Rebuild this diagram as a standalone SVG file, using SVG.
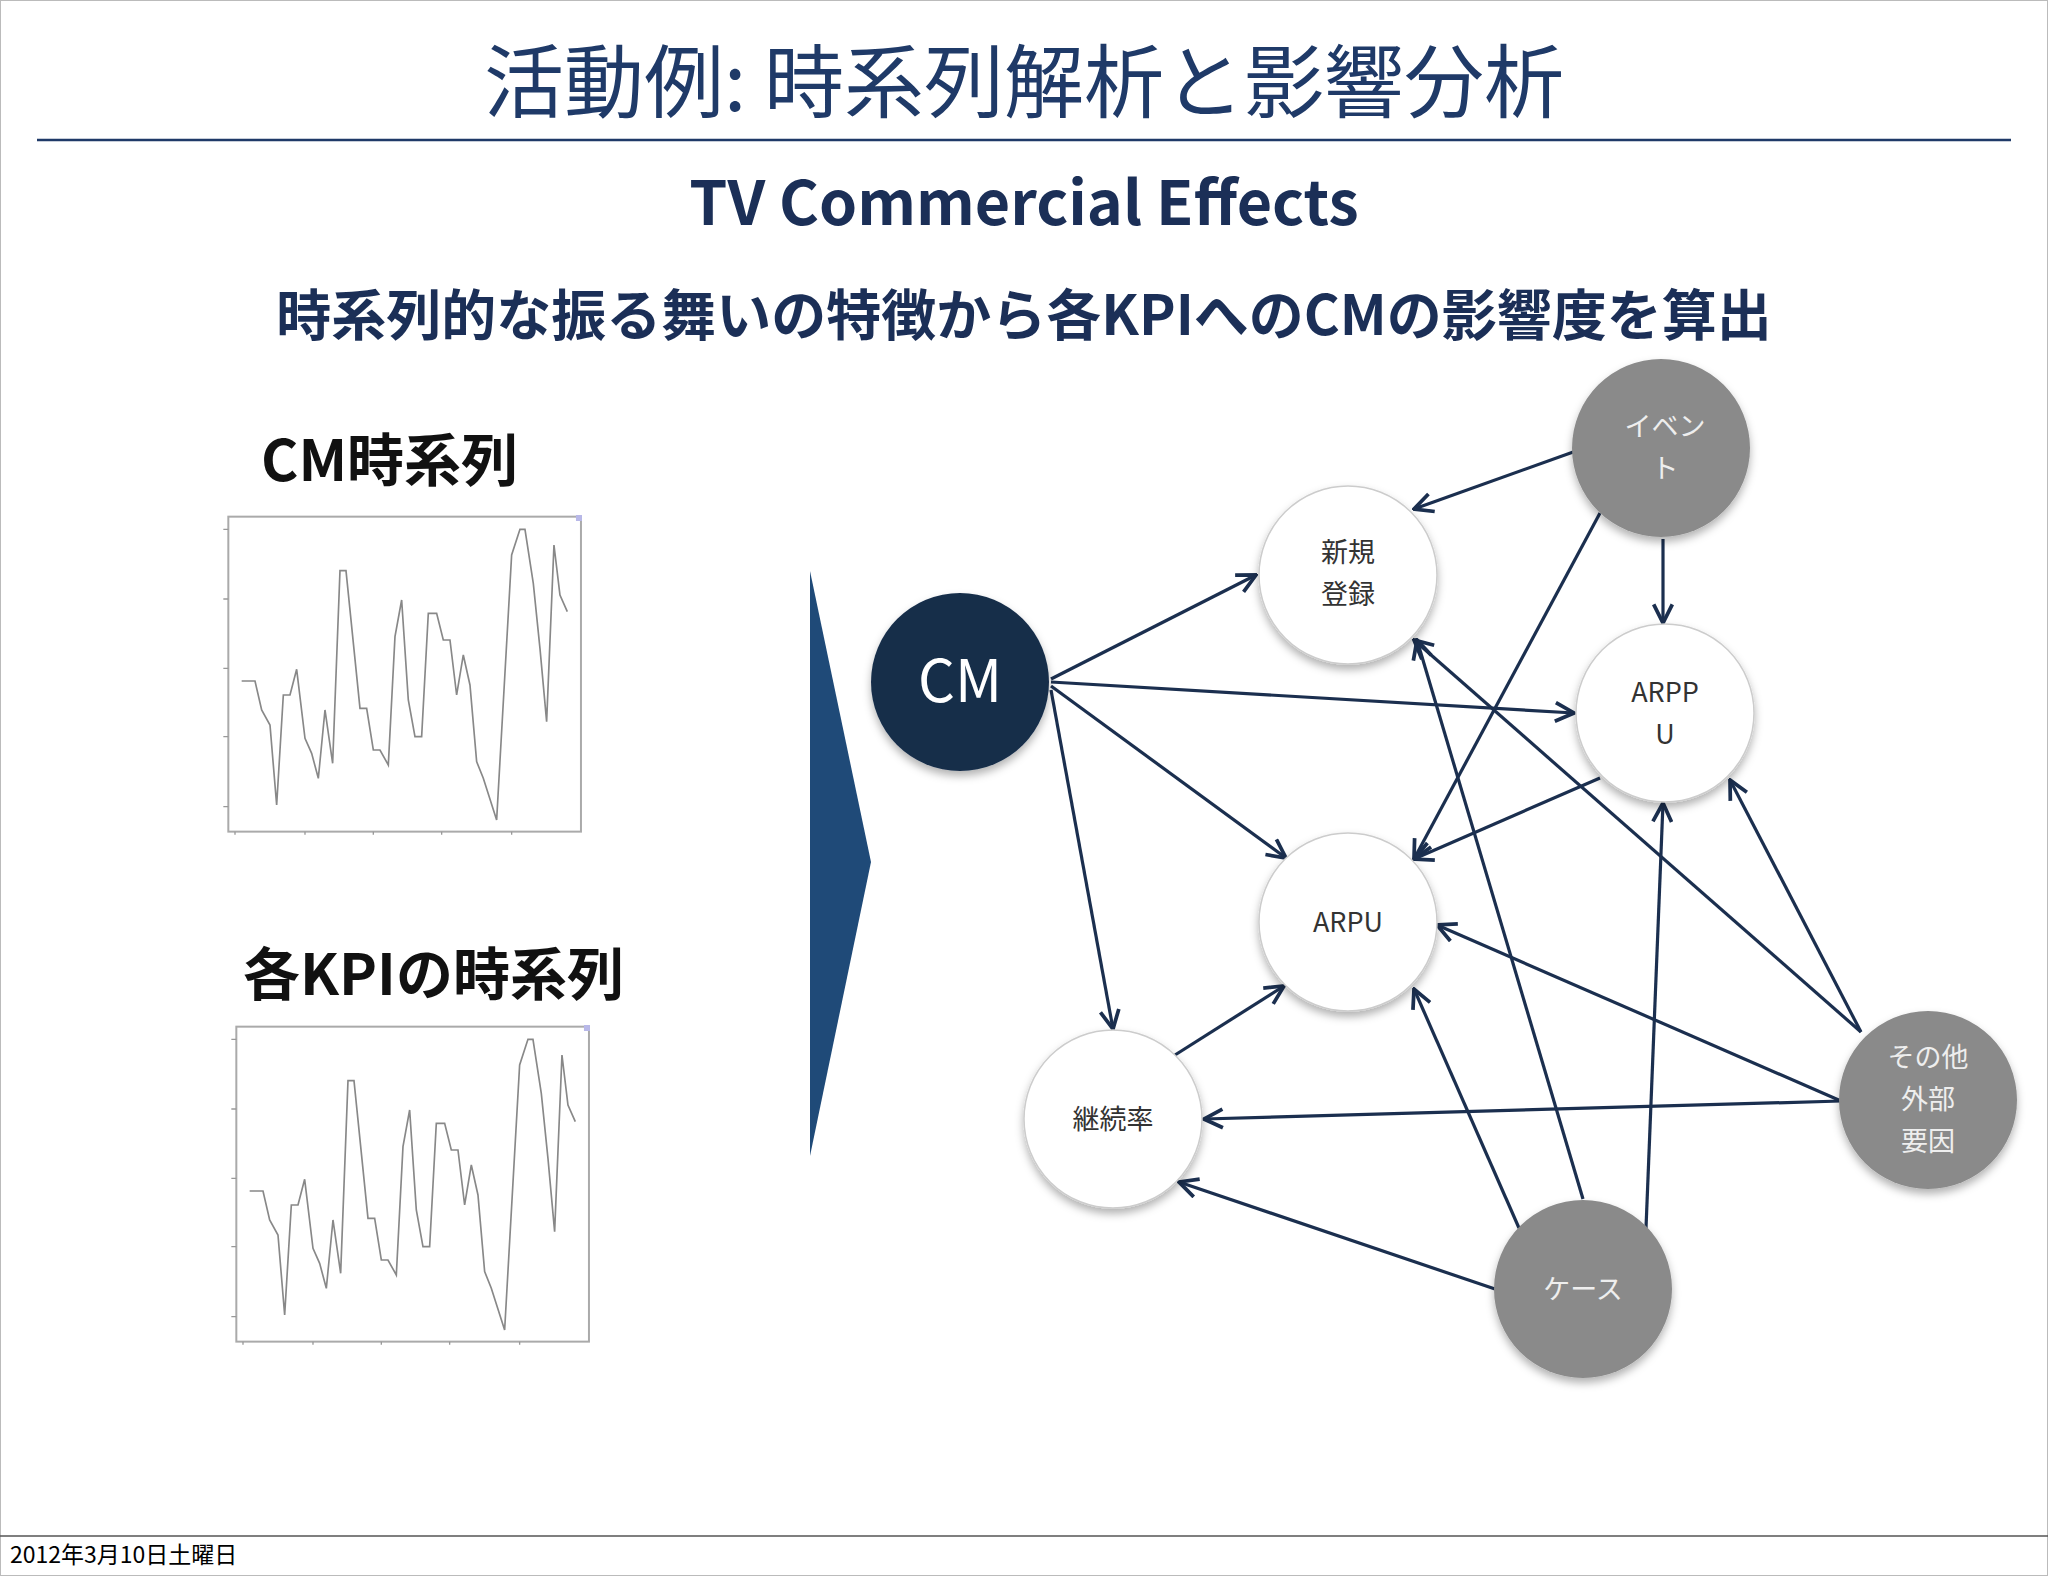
<svg xmlns="http://www.w3.org/2000/svg" width="2048" height="1576" viewBox="0 0 2048 1576">
<defs>
<marker id="ah" viewBox="0 0 12 12" refX="11" refY="6" markerWidth="7" markerHeight="7" markerUnits="strokeWidth" orient="auto"><path d="M1,1 L11,6 L1,11" fill="none" stroke="#1b2f4f" stroke-width="2"/></marker>
<filter id="sh" x="-20%" y="-20%" width="140%" height="150%"><feDropShadow dx="0" dy="5" stdDeviation="4" flood-color="#000" flood-opacity="0.3"/></filter>
<polyline id="ts" fill="none" stroke="#888" stroke-width="5" points="125,543 165,543 185,630 210,675 230,915 250,585 270,585 290,508 315,715 335,760 355,835 375,630 398,790 420,212 438,212 480,625 500,625 520,750 540,750 565,795 585,410 605,300 625,600 645,710 665,710 685,340 710,340 730,420 750,420 770,585 790,465 810,555 830,785 850,835 890,960 935,165 960,88 975,88 1000,250 1020,445 1040,665 1062,135 1080,285 1102,335"/>
<g id="chart">
<rect x="85" y="50" width="1058" height="945" fill="#fff" stroke="#aaa" stroke-width="6"/>
<path d="M70,88h15M70,297h15M70,505h15M70,710h15M70,920h15M105,995v9M315,995v9M520,995v9M725,995v9M935,995v9" stroke="#999" stroke-width="4"/>
<rect x="1128" y="45" width="18" height="18" fill="#b8b8e8"/>
<use href="#ts"/>
</g>
</defs>
<style>
.t{font-family:"Noto Sans CJK JP","Noto Sans",sans-serif}
.n{fill:#fff;stroke:#ccc;stroke-width:1.5}
.g{fill:#8a8a8a}
.lt{font-size:27px;fill:#333;text-anchor:middle}
.wt{font-size:27px;fill:#eee;text-anchor:middle}
.e line{stroke:#1b2f4f;stroke-width:3.2;marker-end:url(#ah)}
</style>
<rect x="0.5" y="0.5" width="2047" height="1575" fill="#fff" stroke="#bbb"/>
<text class="t" x="1024" y="111" font-size="80" fill="#1f3a68" text-anchor="middle">活動例: 時系列解析と影響分析</text>
<line x1="37" y1="140" x2="2011" y2="140" stroke="#1f3a68" stroke-width="2.5"/>
<text class="t" x="1024" y="225" font-size="61" font-weight="bold" fill="#1b2f57" text-anchor="middle">TV Commercial Effects</text>
<text class="t" x="1024" y="335" font-size="55" font-weight="bold" fill="#1b2f57" text-anchor="middle">時系列的な振る舞いの特徴から各KPIへのCMの影響度を算出</text>
<text class="t" x="261" y="481" font-size="57" font-weight="bold" fill="#111">CM時系列</text>
<text class="t" x="243" y="995" font-size="57" font-weight="bold" fill="#111">各KPIの時系列</text>
<g id="chart1" transform="translate(200,500) scale(0.3333)"><use href="#chart"/></g>
<g id="chart2" transform="translate(208,1010) scale(0.3333)"><use href="#chart"/></g>
<polygon points="810,571 871,862 810,1156" fill="#1f4a78"/>
<g id="connectors" class="e">
<line x1="1576" y1="451" x2="1414" y2="509"/>
<line x1="1663" y1="539" x2="1663" y2="623"/>
<line x1="1600" y1="513" x2="1414" y2="859"/>
<line x1="1051" y1="679" x2="1256" y2="575"/>
<line x1="1051" y1="682" x2="1574" y2="713"/>
<line x1="1051" y1="686" x2="1286" y2="858"/>
<line x1="1051" y1="690" x2="1113" y2="1029"/>
<line x1="1600" y1="778" x2="1414" y2="859"/>
<line x1="1175" y1="1055" x2="1284" y2="986"/>
<line x1="1861" y1="1032" x2="1414" y2="640"/>
<line x1="1861" y1="1032" x2="1730" y2="780"/>
<line x1="1841" y1="1101" x2="1437" y2="925"/>
<line x1="1841" y1="1101" x2="1204" y2="1119"/>
<line x1="1583" y1="1199" x2="1417" y2="640"/>
<line x1="1519" y1="1228" x2="1414" y2="989"/>
<line x1="1646" y1="1228" x2="1663" y2="803"/>
<line x1="1495" y1="1289" x2="1179" y2="1182"/>
</g>
<g id="cm"><circle cx="960" cy="682" r="89" fill="#162d4a" filter="url(#sh)"/><text class="t" x="960" y="702" font-size="58" fill="#fff" text-anchor="middle">CM</text></g>
<g id="shinki"><circle class="n" cx="1348" cy="575" r="89" filter="url(#sh)"/><text class="t lt" x="1348" y="562">新規</text><text class="t lt" x="1348" y="604">登録</text></g>
<g id="arppu"><circle class="n" cx="1665" cy="713" r="89" filter="url(#sh)"/><text class="t lt" x="1665" y="702">ARPP</text><text class="t lt" x="1665" y="744">U</text></g>
<g id="arpu"><circle class="n" cx="1348" cy="922" r="89" filter="url(#sh)"/><text class="t lt" x="1348" y="932">ARPU</text></g>
<g id="keizoku"><circle class="n" cx="1113" cy="1119" r="89" filter="url(#sh)"/><text class="t lt" x="1113" y="1129">継続率</text></g>
<g id="event"><circle class="g" cx="1661" cy="448" r="89" filter="url(#sh)"/><text class="t wt" x="1665" y="436">イベン</text><text class="t wt" x="1665" y="478">ト</text></g>
<g id="sonota"><circle class="g" cx="1928" cy="1100" r="89" filter="url(#sh)"/><text class="t wt" x="1928" y="1067">その他</text><text class="t wt" x="1928" y="1109">外部</text><text class="t wt" x="1928" y="1151">要因</text></g>
<g id="case"><circle class="g" cx="1583" cy="1289" r="89" filter="url(#sh)"/><text class="t wt" x="1583" y="1299">ケース</text></g>
<line x1="0" y1="1536" x2="2048" y2="1536" stroke="#555" stroke-width="1.5"/>
<text class="t" x="10" y="1563" font-size="23" fill="#000">2012年3月10日土曜日</text>
</svg>
